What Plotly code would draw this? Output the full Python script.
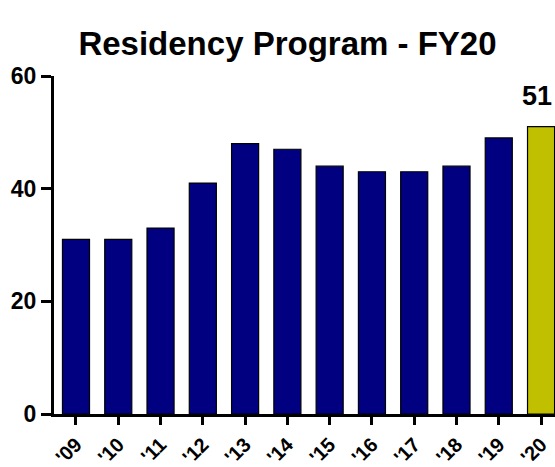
import plotly.graph_objects as go

years = ["'09", "'10", "'11", "'12", "'13", "'14", "'15", "'16", "'17", "'18", "'19", "'20"]
values = [31, 31, 33, 41, 48, 47, 44, 43, 43, 44, 49, 51]
colors = ["#000080"] * 11 + ["#C0C000"]

FONT = "Liberation Sans, Arial"

fig = go.Figure(go.Bar(
    x=list(range(len(years))), y=values,
    marker=dict(color=colors, line=dict(color="black", width=1.2)),
    width=0.64,
))

fig.add_annotation(
    x=len(years) - 1, y=values[-1], text="<b>%d</b>" % values[-1],
    showarrow=False, xanchor="center", yanchor="bottom", yshift=14, xshift=-4,
    font=dict(family=FONT, size=27, color="black"),
)

fig.update_layout(
    width=555, height=467,
    margin=dict(l=54, r=0, t=76, b=53, autoexpand=False),
    plot_bgcolor="white", paper_bgcolor="white",
    showlegend=False,
    title=dict(text="<b>Residency Program - FY20</b>", x=0.518, xanchor="center",
               y=0.908, yanchor="middle", yref="container",
               font=dict(family=FONT, size=33, color="black")),
    font=dict(family=FONT, color="black"),
)
fig.update_xaxes(
    range=[-0.52, 11.33], tickmode="array", tickvals=list(range(len(years))), ticktext=years,
    tickangle=-45, ticks="outside", ticklen=8, tickwidth=3, tickcolor="black",
    showline=True, linecolor="black", linewidth=3, showgrid=False, zeroline=False,
    tickfont=dict(size=20, weight="bold"), automargin=False, ticklabelstandoff=0,
)
fig.update_yaxes(
    range=[0, 60], tickvals=[0, 20, 40, 60], ticks="outside", ticklen=10, tickwidth=3, tickcolor="black",
    showline=True, linecolor="black", linewidth=3, showgrid=False, zeroline=False,
    tickfont=dict(size=23, weight="bold"), automargin=False,
)

fig.write_html(
    "out.html",
    config={"displayModeBar": False},
    post_script="document.body.style.margin='0';document.body.style.overflow='hidden';",
)
